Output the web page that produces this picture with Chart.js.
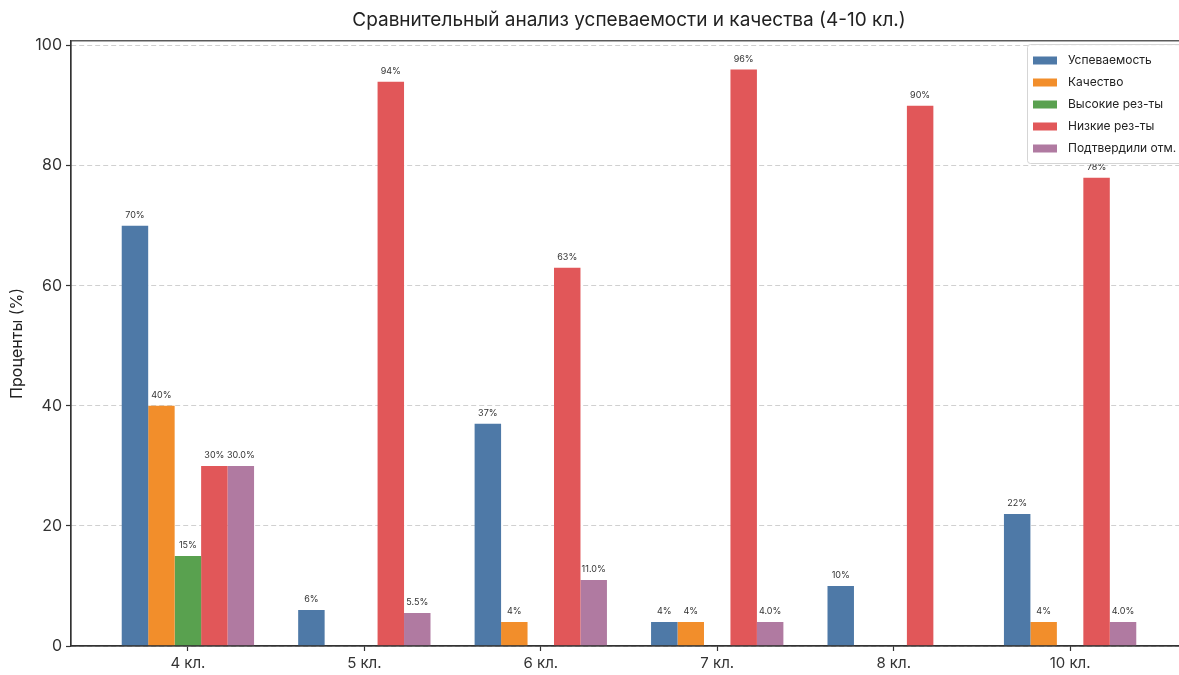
<!DOCTYPE html>
<html lang="ru">
<head>
<meta charset="utf-8">
<title>Сравнительный анализ</title>
<script src="https://cdn.jsdelivr.net/npm/chart.js@4"></script>
<style>
    html, body { margin: 0; padding: 0; background: #fff; overflow: hidden; }
    #chart { display: block; }
</style>
</head>
<body>
<canvas id="chart" width="1200" height="675"></canvas>
<script>
const categories = ['4 кл.', '5 кл.', '6 кл.', '7 кл.', '8 кл.', '10 кл.'];
const seriesNames = ['Успеваемость', 'Качество', 'Высокие рез-ты', 'Низкие рез-ты', 'Подтвердили отм.'];
const uspevaemost = [70, 6, 37, 4, 10, 22];
const kachestvo = [40, 0, 4, 4, 0, 4];
const vysokie = [15, 0, 0, 0, 0, 0];
const nizkie = [30, 94, 63, 96, 90, 78];
const podtverdili = [30.0, 5.5, 11.0, 4.0, 0, 4.0];
const labelDecimals = [0, 0, 0, 0, 1];
const seriesColors = ['#4e79a7', '#f28e2b', '#59a14f', '#e15759', '#b07aa1'];
const yTicks = [0, 20, 40, 60, 80, 100];

const FONT = "Inter, 'Noto Sans', sans-serif";
Chart.defaults.font.family = FONT;
Chart.defaults.color = '#333';

const allSeries = [uspevaemost, kachestvo, vysokie, nizkie, podtverdili];

const datasets = allSeries.map((vals, i) => ({
    label: seriesNames[i],
    data: vals.map((v, k) => ({ x: k, y: v })),
    backgroundColor: seriesColors[i],
    borderWidth: 0,
    categoryPercentage: 0.75,
    barPercentage: 1.0
}));

// value labels above each bar
const barLabels = {
    id: 'barLabels',
    afterDatasetsDraw(chart) {
        const ctx = chart.ctx;
        ctx.save();
        ctx.font = '9px ' + FONT;
        ctx.fillStyle = '#333';
        ctx.textAlign = 'center';
        ctx.textBaseline = 'bottom';
        chart.data.datasets.forEach((ds, i) => {
            const meta = chart.getDatasetMeta(i);
            meta.data.forEach((bar, k) => {
                const v = allSeries[i][k];
                if (!v) return;
                ctx.fillText(v.toFixed(labelDecimals[i]) + '%', bar.x, bar.y - 6);
            });
        });
        ctx.restore();
    }
};

// axes frame + legend box inside the plot (matplotlib style)
const frameAndLegend = {
    id: 'frameAndLegend',
    afterDraw(chart) {
        const ctx = chart.ctx;
        const a = chart.chartArea;
        ctx.save();
        ctx.strokeStyle = '#333';
        ctx.lineWidth = 1.2;
        ctx.strokeRect(a.left, a.top, a.right - a.left, a.bottom - a.top);

        const lx = 1027, ly = 44, lw = 170, lh = 119;
        ctx.fillStyle = 'rgba(255,255,255,0.85)';
        ctx.strokeStyle = '#d5d5d5';
        ctx.lineWidth = 1;
        ctx.beginPath();
        ctx.roundRect(lx + 0.5, ly + 0.5, lw, lh, 3);
        ctx.fill();
        ctx.stroke();

        ctx.font = '12px ' + FONT;
        ctx.textBaseline = 'middle';
        ctx.textAlign = 'left';
        chart.data.datasets.forEach((ds, i) => {
            const cy = ly + 16.5 + i * 22;
            ctx.fillStyle = ds.backgroundColor;
            ctx.fillRect(lx + 6, cy - 4, 24, 8);
            ctx.fillStyle = '#222';
            ctx.fillText(ds.label, lx + 41, cy);
        });
        ctx.restore();
    }
};

new Chart(document.getElementById('chart'), {
    type: 'bar',
    data: { datasets },
    options: {
        responsive: false,
        animation: false,
        devicePixelRatio: 1,
        layout: { padding: { left: 0, right: 13, top: 0, bottom: 0 } },
        plugins: {
            legend: { display: false },
            tooltip: { enabled: false },
            title: {
                display: true,
                fullSize: false,
                text: 'Сравнительный анализ успеваемости и качества (4-10 кл.)',
                color: '#222',
                font: { size: 19, weight: 'normal' },
                padding: { top: 9, bottom: 9 }
            }
        },
        scales: {
            x: {
                type: 'linear',
                offset: false,
                min: -0.6625,
                max: 5.6625,
                afterBuildTicks: s => { s.ticks = categories.map((c, i) => ({ value: i })); },
                afterFit: s => { s.height = 29; },
                ticks: {
                    callback: v => categories[v],
                    font: { size: 15 },
                    color: '#333',
                    padding: 3,
                    maxRotation: 0
                },
                grid: { offset: false, drawOnChartArea: false, tickLength: 5, tickColor: '#333', tickWidth: 1.2 },
                border: { color: '#333', width: 1.2 }
            },
            y: {
                min: 0,
                max: 100.8,
                afterBuildTicks: s => { s.ticks = yTicks.map(v => ({ value: v })); },
                afterFit: s => { s.width = 71; },
                title: {
                    display: true,
                    text: 'Проценты (%)',
                    font: { size: 16 },
                    color: '#222',
                    padding: { top: 8, bottom: 0 }
                },
                ticks: { font: { size: 16 }, color: '#333', padding: 4 },
                grid: { color: '#d0d0d0', lineWidth: 1, tickLength: 5, tickColor: '#333', tickWidth: 1.2 },
                border: { color: '#333', width: 1.2, dash: [5, 3] }
            }
        }
    },
    plugins: [barLabels, frameAndLegend]
});
</script>
</body>
</html>
